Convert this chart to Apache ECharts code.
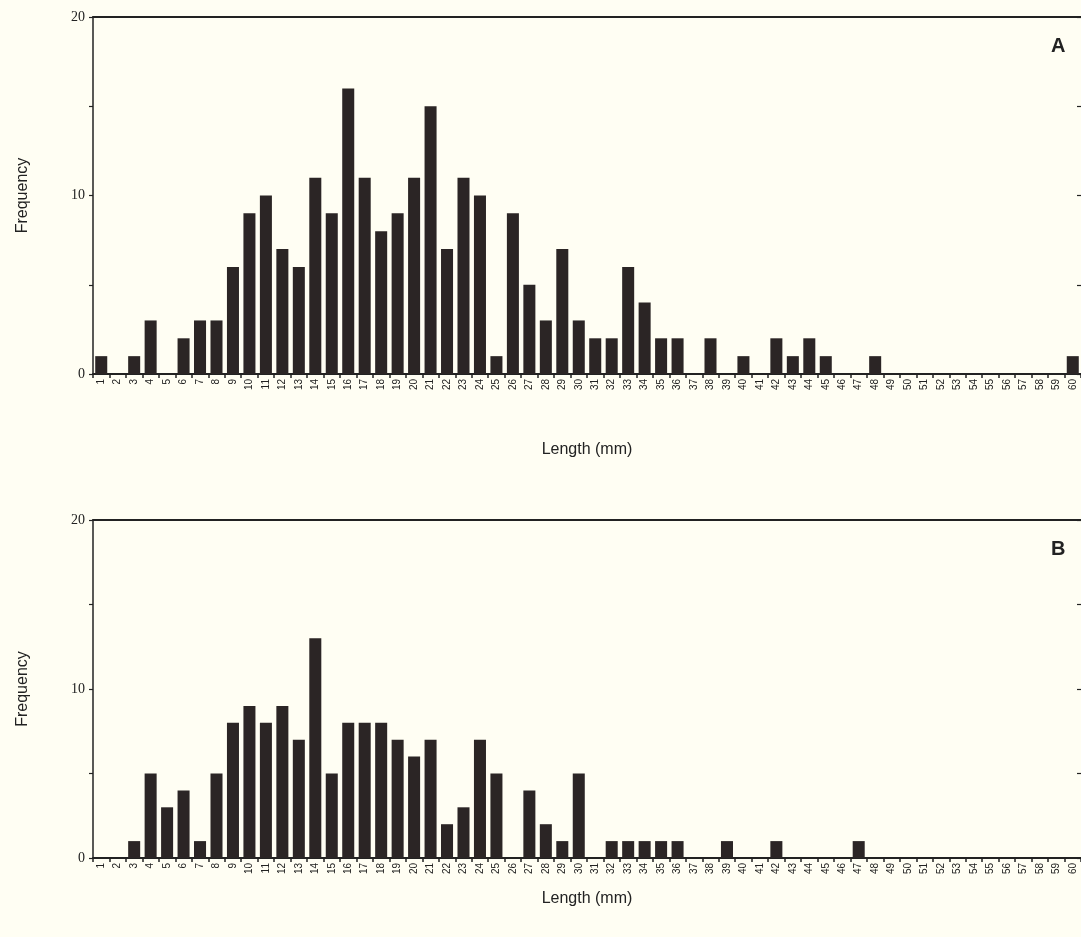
<!DOCTYPE html>
<html>
<head>
<meta charset="utf-8">
<script src="https://cdn.jsdelivr.net/npm/echarts@6/dist/echarts.min.js"></script>
<style>
html,body{margin:0;padding:0;background:#fffef3;}
#chart{width:1081px;height:937px;}
</style>
</head>
<body>
<div id="chart"></div>
<script>
// Length classes (mm)
const lengths = [];
for (let i = 1; i <= 60; i++) lengths.push(String(i));

// Panel A frequencies
const freqA = [1,0,1,3,0,2,3,3,6,9, 10,7,6,11,9,16,11,8,9,11, 15,7,11,10,1,9,5,3,7,3, 2,2,6,4,2,2,0,2,0,1, 0,2,1,2,1,0,0,1,0,0, 0,0,0,0,0,0,0,0,0,1];
// Panel B frequencies
const freqB = [0,0,1,5,3,4,1,5,8,9, 8,9,7,13,5,8,8,8,7,6, 7,2,3,7,5,0,4,2,1,5, 0,1,1,1,1,1,0,0,1,0, 0,1,0,0,0,0,1,0,0,0, 0,0,0,0,0,0,0,0,0,0];

const yTicks = [0, 10, 20];
const panelLabels = ['A', 'B'];
const xTitle = 'Length (mm)';
const yTitle = 'Frequency';

const ink = '#222';
const barColor = '#2b2525';

const grids = [
  {left: 93, top: 17, width: 988, height: 357},
  {left: 93, top: 520, width: 988, height: 338}
];
const xNameGaps = [68, 33];

const xAxes = [], yAxes = [], series = [], titles = [];
[freqA, freqB].forEach((data, g) => {
  xAxes.push({
    type: 'category', gridIndex: g, data: lengths, boundaryGap: true,
    name: xTitle, nameLocation: 'middle', nameGap: xNameGaps[g],
    nameTextStyle: {fontFamily: 'Liberation Sans, Arial', fontSize: 16, color: ink},
    axisLine: {lineStyle: {color: ink, width: 2}},
    axisTick: {show: true, length: 4, lineStyle: {color: ink, width: 1.5}},
    axisLabel: {interval: 0, rotate: 90, fontSize: 10, color: ink, margin: 5,
      fontFamily: 'Liberation Sans, Arial'},
    splitLine: {show: false}
  });
  xAxes.push({
    type: 'category', gridIndex: g, position: 'top', data: lengths,
    axisLine: {show: true, onZero: false, lineStyle: {color: ink, width: 2}},
    axisTick: {show: false}, axisLabel: {show: false}, splitLine: {show: false}
  });
  yAxes.push({
    type: 'value', gridIndex: g, min: 0, max: 20, interval: 5,
    name: yTitle, nameLocation: 'middle', nameGap: 62, nameRotate: 90,
    nameTextStyle: {fontFamily: 'Liberation Sans, Arial', fontSize: 16, color: ink},
    axisLine: {show: true, lineStyle: {color: ink, width: 1.5}},
    axisTick: {show: true, length: 4, lineStyle: {color: ink, width: 1.2}},
    axisLabel: {fontFamily: 'Liberation Serif, Times New Roman, serif', fontSize: 14, color: ink, margin: 8,
      formatter: v => (yTicks.indexOf(v) >= 0 ? String(v) : '')},
    splitLine: {show: false}
  });
  yAxes.push({
    type: 'value', gridIndex: g, min: 0, max: 20, interval: 5, position: 'right',
    axisLine: {show: false},
    axisTick: {show: true, inside: true, length: 4, lineStyle: {color: ink, width: 1.2}},
    axisLabel: {show: false}, splitLine: {show: false}
  });
  series.push({
    type: 'bar', xAxisIndex: g * 2, yAxisIndex: g * 2, data: data,
    barCategoryGap: '27%', itemStyle: {color: barColor}, silent: true
  });
  titles.push({
    text: panelLabels[g], left: 1046, top: grids[g].top + 14,
    textStyle: {fontFamily: 'Liberation Sans, Arial', fontWeight: 'bold', fontSize: 20, color: ink}
  });
});

const chart = echarts.init(document.getElementById('chart'), null, {renderer: 'canvas'});
chart.setOption({
  backgroundColor: '#fffef3',
  animation: false,
  title: titles,
  grid: grids,
  xAxis: xAxes,
  yAxis: yAxes,
  series: series
});
</script>
</body>
</html>
